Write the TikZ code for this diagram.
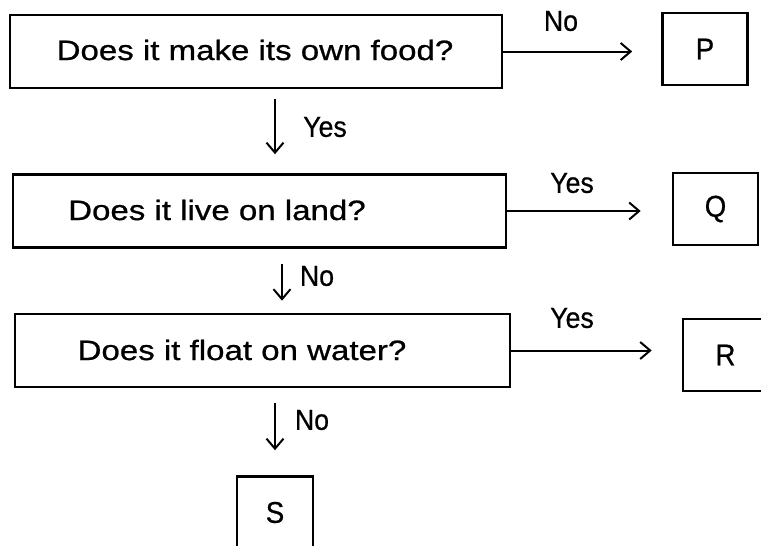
\documentclass[tikz,border=0pt]{standalone}
\usepackage{fontspec}
\setmainfont{Liberation Sans}
\newfontfamily\qfont[FakeStretch=1.18,FakeBold=0.8]{Liberation Sans}
\newfontfamily\lblfont[FakeStretch=0.92,FakeBold=0.6]{Liberation Sans}
\usetikzlibrary{arrows.meta}

\tikzset{
  qbox/.style={draw, line width=2.6pt, minimum width=#1, minimum height=73pt, inner sep=0pt},
  qtext/.style={inner sep=0pt, font=\qfont\fontsize{28}{30}\selectfont},
  abox/.style={draw, line width=2.6pt, minimum width=#1, minimum height=72pt, inner sep=0pt,
    font=\lblfont\fontsize{30}{32}\selectfont},
  abox/.default=85pt,
  lbl/.style={inner sep=0pt, font=\lblfont\fontsize{29}{30}\selectfont},
  flow/.style={line width=2pt, -{Straight Barb[length=10pt,width=17pt]}}
}

\begin{document}
\begin{tikzpicture}[x=1pt,y=-1pt]
\useasboundingbox (0,0) rectangle (761,546);
\clip (0,0) rectangle (761,546);

\node[qbox=492pt] (q1) at (256,51.5) {};
\node[qbox=493pt] (q2) at (259.5,211) {};
\node[qbox=495pt] (q3) at (262.5,350.5) {};

\node[qtext] (t1) at (255,50) {Does it make its own food?};
\node[qtext] (t2) at (217,210) {Does it live on land?};
\node[qtext] (t3) at (242,350) {Does it float on water?};

\foreach \n/\t/\x/\y in {p/P/705/49,q/Q/715.5/209,r/R/725.5/355}
\node[abox] (\n) at (\x,\y) {\t};
\node[abox=76pt] (s) at (275,512.5) {S};

\foreach \t/\x/\y [count=\i] in {No/561/21,Yes/325/127,Yes/572/183,No/317/276,Yes/572/318,No/312/420}
\node[lbl] (lab\i) at (\x,\y) {\t};

\coordinate (mid) at (282,0);

\draw[flow, shorten >=29pt] (q1) -- (q1 -| p.west);
\draw[flow, shorten >=31pt] (q2) -- (q2 -| q.west);
\draw[flow, shorten >=30pt] (q3) -- (q3 -| r.west);

\draw[flow, shorten <=10pt, shorten >=19pt] (q1.south -| s) -- (q2.north -| s);
\draw[flow, shorten <=15pt, shorten >=12pt] (q2.south -| mid) -- (q3.north -| mid);
\draw[flow, shorten <=15pt, shorten >=25pt] (q3.south -| s) -- (s);

\end{tikzpicture}
\end{document}
